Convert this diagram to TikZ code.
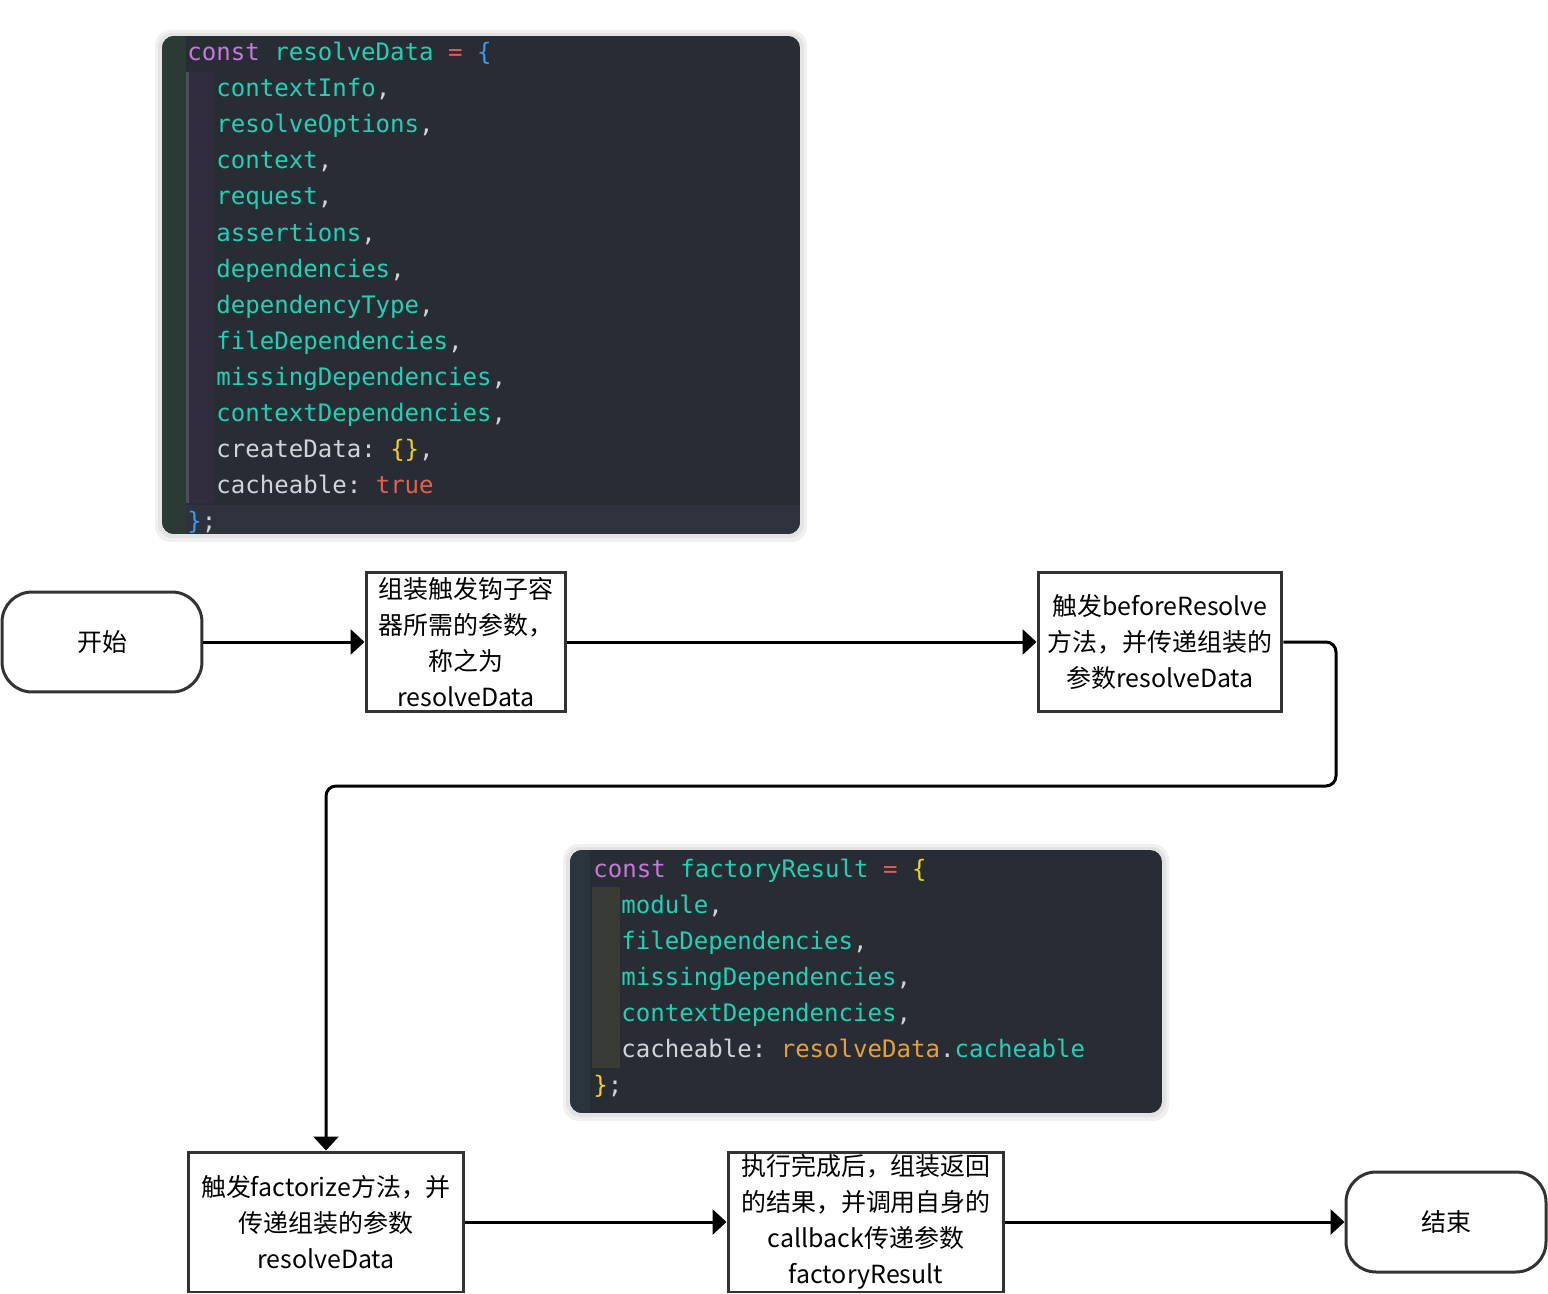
\documentclass[tikz,border=0pt]{standalone}
\usepackage{fontspec}
\setmonofont{DejaVu Sans Mono}
\newfontfamily\cjk{Noto Sans CJK SC}
\usetikzlibrary{arrows.meta}
\definecolor{codebg}{HTML}{282C34}
\definecolor{lastrow}{HTML}{2E323D}
\definecolor{guttera}{HTML}{2C3A36}
\definecolor{gutterb}{HTML}{29343D}
\definecolor{guidea}{HTML}{312D3E}
\definecolor{guideb}{HTML}{393B35}
\definecolor{guideline}{HTML}{4B4F5A}
\definecolor{kwpurple}{HTML}{C678DD}
\definecolor{varteal}{HTML}{22D1B3}
\definecolor{punct}{HTML}{D2D4DA}
\definecolor{opred}{HTML}{E0604C}
\definecolor{brblue}{HTML}{3D9BEF}
\definecolor{bryellow}{HTML}{F5D020}
\definecolor{truered}{HTML}{E5604D}
\definecolor{dataorange}{HTML}{E6A03A}
\definecolor{boxline}{HTML}{333333}
\newcommand{\kw}[1]{\textcolor{kwpurple}{#1}}
\newcommand{\vn}[1]{\textcolor{varteal}{#1}}
\newcommand{\pu}[1]{\textcolor{punct}{#1}}

\begin{document}
\begin{tikzpicture}[x=0.02cm, y=-0.02cm,
  code/.style={anchor=base west, inner sep=0pt, font=\ttfamily\fontsize{13.7}{16}\selectfont},
  flowbox/.style={draw=boxline, line width=0.06cm, align=center, inner sep=0pt,
    font=\cjk\fontsize{14.2}{20.4}\selectfont, minimum height=2.8cm},
  terminal/.style={flowbox, rounded corners=0.6cm, minimum width=4cm, minimum height=2cm},
  flow/.style={line width=0.06cm, -{Triangle[length=0.28cm, width=0.5cm]}}]
  \useasboundingbox (0,0) rectangle (1548,1294);

  % code panels
  \fill[black!6, rounded corners=0.32cm] (155,30) rectangle (807,542);
  \fill[black!11, rounded corners=0.28cm] (158,33) rectangle (804,538);
  \fill[black!6, rounded corners=0.32cm] (563,844) rectangle (1169,1121);
  \fill[black!11, rounded corners=0.28cm] (566,847) rectangle (1166,1117);

  \begin{scope}
    \clip[rounded corners=0.24cm] (162,36) rectangle (800,534);
    \fill[codebg] (162,36) rectangle (800,534);
    \fill[guttera] (162,36) rectangle (186,534);
    \fill[lastrow] (186,505) rectangle (800,534);
    \fill[guidea] (186,72) rectangle (214,503);
    \fill[guideline] (186,72) rectangle (189,503);
  \end{scope}
  \begin{scope}
    \clip[rounded corners=0.24cm] (570,850) rectangle (1162,1113);
    \fill[codebg] (570,850) rectangle (1162,1113);
    \fill[gutterb] (570,850) rectangle (590,1113);
    \fill[guideb] (592,887) rectangle (620,1068);
  \end{scope}

  \node[code] (rd0) at (187,61) {\kw{const} \vn{resolveData} \textcolor{opred}{=} \textcolor{brblue}{\{}};
  \foreach \i/\name in {1/contextInfo, 2/resolveOptions, 3/context, 4/request, 5/assertions,
      6/dependencies, 7/dependencyType, 8/fileDependencies, 9/missingDependencies,
      10/contextDependencies}
    \node[code] (rd\i) at (216,61+36*\i) {\vn{\name}\pu{,}};
  \node[code] (rd11) at (216,457) {\pu{createData:} \textcolor{bryellow}{\{\}}\pu{,}};
  \node[code] (rd12) at (216,493) {\pu{cacheable:} \textcolor{truered}{true}};
  \node[code] (rd13) at (187,529) {\textcolor{brblue}{\}}\pu{;}};

  \node[code] (fr0) at (593,877) {\kw{const} \vn{factoryResult} \textcolor{opred}{=} \textcolor{bryellow}{\{}};
  \foreach \i/\name in {1/module, 2/fileDependencies, 3/missingDependencies, 4/contextDependencies}
    \node[code] (fr\i) at (621,877+36*\i) {\vn{\name}\pu{,}};
  \node[code] (fr5) at (621,1057) {\pu{cacheable:} \textcolor{dataorange}{resolveData}\pu{.}\vn{cacheable}};
  \node[code] (fr6) at (593,1093) {\textcolor{bryellow}{\}}\pu{;}};

  % flow
  \node[terminal] (start) at (102,642) {开始};
  \node[flowbox, minimum width=4cm] (collect) at (466,642)
    {组装触发钩子容\\器所需的参数，\\称之为\\resolveData};
  \node[flowbox, minimum width=4.88cm] (before) at (1160,642)
    {触发beforeResolve\\方法，并传递组装的\\参数resolveData};
  \node[flowbox, minimum width=5.52cm] (factorize) at (326,1222)
    {触发factorize方法，并\\传递组装的参数\\resolveData};
  \node[flowbox, minimum width=5.52cm] (done) at (866,1222)
    {执行完成后，组装返回\\的结果，并调用自身的\\callback传递参数\\factoryResult};
  \node[terminal] (finish) at (1446,1222) {结束};
  \coordinate (turn) at (1336,786);

  \draw[flow] (start) -- (collect);
  \draw[flow] (collect) -- (before);
  \draw[flow, rounded corners=0.2cm] (before.east) -| (turn) -| (factorize.north);
  \draw[flow] (factorize) -- (done);
  \draw[flow] (done) -- (finish);
\end{tikzpicture}
\end{document}
